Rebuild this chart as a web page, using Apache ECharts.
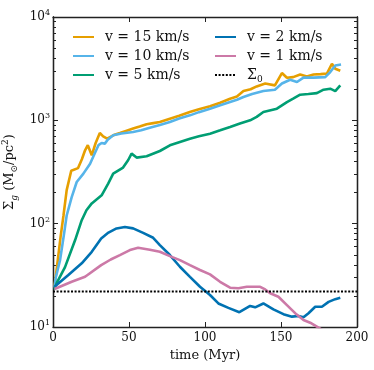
<!DOCTYPE html>
<html>
<head>
<meta charset="utf-8">
<script src="https://cdn.jsdelivr.net/npm/echarts@6/dist/echarts.min.js"></script>
<style>
  html, body { margin: 0; padding: 0; background: #fff; }
  #chart { width: 374px; height: 370px; }
</style>
</head>
<body>
<div id="chart"></div>
<script>
// time (Myr) and surface density for each run
var t15 = [1, 2.4, 5, 6.9, 9, 12, 16.5, 19, 21.1, 22.9, 25.5, 28, 30.8, 33, 35.6, 40, 44, 48, 52.7, 57, 61.6, 66, 70.3, 76.9, 83, 90, 96, 103.3, 110, 116.5, 121, 125.3, 130, 134, 139.6, 146, 150.6, 153.9, 158, 162.6, 167, 171.4, 176, 180.2, 183.5, 185.7, 189];
var v15 = [25, 36, 75, 120, 211, 325, 345, 420, 513, 575, 459, 600, 754, 700, 665, 720, 754, 790, 832, 870, 915, 940, 963, 1038, 1110, 1203, 1280, 1366, 1480, 1620, 1700, 1920, 2000, 2130, 2270, 2180, 2870, 2580, 2620, 2780, 2660, 2780, 2800, 2830, 3530, 3160, 3020];

var t10 = [1, 1.8, 4.6, 7, 9, 12.3, 15.6, 20, 24.4, 27.5, 29.9, 32, 34.1, 36, 39.6, 45, 52.7, 58, 63.7, 70.3, 76.9, 83, 90.1, 96, 103.3, 110, 116.5, 121, 125.3, 131, 138.4, 146, 150.6, 156, 160.5, 164.8, 171.4, 179.1, 182.4, 185.7, 189.5];
var v10 = [24, 30, 44, 75, 120, 181, 253, 305, 380, 480, 575, 603, 595, 650, 716, 745, 771, 800, 849, 900, 963, 1040, 1117, 1200, 1296, 1400, 1503, 1580, 1680, 1800, 1920, 1980, 2270, 2470, 2350, 2590, 2590, 2620, 2930, 3400, 3470];

var t5 = [1, 2.4, 7.9, 14.5, 18.9, 22, 25.5, 32, 36.3, 39.6, 46.1, 49.4, 51.7, 55, 61.6, 70.3, 76.9, 83, 90.1, 96, 103.3, 110, 116.5, 123, 129.7, 134, 138.4, 147.3, 153.9, 158, 162.6, 168, 173.6, 178, 182.4, 185.7, 189];
var v5 = [23, 26.6, 38, 69, 108, 135, 157, 188, 244, 305, 349, 411, 476, 436, 449, 505, 573, 615, 665, 700, 743, 800, 861, 930, 1000, 1080, 1203, 1296, 1503, 1620, 1770, 1800, 1835, 1980, 2025, 1920, 2180];

var t2 = [1, 2.2, 10.1, 18.9, 25.5, 31.7, 36.5, 41.8, 47.3, 52.7, 59.3, 65.9, 70.3, 76.9, 83.5, 90.1, 96.7, 103.3, 108.8, 115.4, 122.6, 129.7, 133, 138.4, 145, 151.6, 157.2, 161.5, 164.8, 168.1, 172.5, 176.9, 181.3, 185.7, 189];
var v2 = [24.5, 25.5, 31.8, 41.3, 53.4, 72, 82, 89.9, 93, 90, 81.5, 73, 62, 49.7, 38.3, 30.6, 24.5, 20.4, 16.9, 15.3, 13.9, 16.0, 15.5, 16.9, 14.8, 13.3, 12.6, 12.8, 12.4, 13.6, 15.7, 15.7, 17.5, 18.6, 19.2];

var t1 = [1, 2.2, 12.3, 21.1, 31.7, 38, 44, 50.6, 56, 63.7, 70.3, 76.9, 83.5, 90.1, 96.7, 103.3, 109.9, 116.5, 122, 127.5, 136.3, 139.6, 142.9, 148.3, 153.9, 159.3, 164.8, 169.2, 173.6, 177];
var v1 = [23.3, 23.6, 27.4, 30.6, 39.7, 45, 49.7, 55.5, 58.4, 56, 53.5, 48.5, 44.4, 39.7, 35.6, 32.3, 27.4, 24.0, 23.7, 24.5, 24.5, 23.1, 21.2, 19.6, 16.3, 13.6, 11.7, 11.0, 10.1, 9.4];

var sigma0 = 22;
var yMajor = [10, 100, 1000, 10000];
var yMinor = [20, 30, 40, 50, 60, 70, 80, 90, 200, 300, 400, 500, 600, 700, 800, 900, 2000, 3000, 4000, 5000, 6000, 7000, 8000, 9000];

var names = ['v = 15 km/s', 'v = 10 km/s', 'v = 5 km/s', 'v = 2 km/s', 'v = 1 km/s', 'Σ0'];
var colors = ['#E69F00', '#56B4E9', '#009E73', '#0072B2', '#CC79A7', '#000000'];

var FONT = '"DejaVu Serif", "Liberation Serif", serif';

function zip(ts, vs) {
  var out = [];
  for (var i = 0; i < ts.length; i++) out.push([ts[i], vs[i]]);
  return out;
}

function lineSeries(i, data) {
  return {
    name: names[i],
    type: 'line',
    data: data,
    showSymbol: false,
    symbol: 'none',
    clip: true,
    lineStyle: { color: colors[i], width: 2.6 },
    itemStyle: { color: colors[i] },
    z: 2 + i
  };
}

var chart = echarts.init(document.getElementById('chart'));

var axisLineStyle = { lineStyle: { color: '#222', width: 1.3 } };

function xAx(pos, withLabels) {
  return {
    type: 'value',
    position: pos,
    min: 0,
    max: 200,
    interval: 50,
    axisLine: axisLineStyle,
    axisTick: { inside: true, length: 5, lineStyle: { color: '#222' } },
    axisLabel: {
      show: withLabels,
      color: '#111',
      fontFamily: FONT,
      fontSize: 12,
      margin: 5
    },
    splitLine: { show: false },
    name: withLabels ? 'time (Myr)' : '',
    nameLocation: 'middle',
    nameGap: 21,
    nameTextStyle: { color: '#111', fontFamily: FONT, fontSize: 13 }
  };
}

function yAx(pos, major, withLabels) {
  return {
    type: 'log',
    logBase: 10,
    position: pos,
    min: 10,
    max: 10000,
    axisLine: axisLineStyle,
    axisTick: {
      inside: true,
      length: major ? 5 : 3,
      customValues: major ? yMajor : yMinor,
      lineStyle: { color: '#222' }
    },
    axisLabel: {
      show: withLabels,
      customValues: yMajor,
      margin: 3,
      formatter: function (v) {
        return '{b|10}{s|' + Math.round(Math.log10(v)) + '}';
      },
      rich: {
        b: { fontFamily: FONT, fontSize: 12, color: '#111', lineHeight: 16 },
        s: { fontFamily: FONT, fontSize: 8, color: '#111', verticalAlign: 'top', lineHeight: 16 }
      }
    },
    splitLine: { show: false },
    name: withLabels ? '{a|Σ}{g|g}{a| (M}{g|⊙}{a|/pc}{p|2}{a|)}' : '',
    nameLocation: 'middle',
    nameGap: 32,
    nameTextStyle: {
      rich: {
        a: { fontFamily: FONT, fontSize: 13, color: '#111', lineHeight: 18 },
        g: { fontFamily: FONT, fontSize: 9, color: '#111', fontStyle: 'italic', verticalAlign: 'bottom', lineHeight: 18 },
        p: { fontFamily: FONT, fontSize: 9, color: '#111', verticalAlign: 'top', lineHeight: 18 }
      }
    }
  };
}

var legendText = {
  fontFamily: FONT,
  fontSize: 14,
  color: '#111',
  padding: [0, 0, 0, 6],
  rich: {
    a: { fontFamily: FONT, fontSize: 14, color: '#111', lineHeight: 18 },
    s: { fontFamily: FONT, fontSize: 9, color: '#111', verticalAlign: 'bottom', lineHeight: 18 }
  }
};

function legendFmt(name) {
  return name === 'Σ0' ? '{a|Σ}{s|0}' : name;
}

function legendCol(data, left) {
  return {
    data: data,
    orient: 'vertical',
    left: left,
    top: 25,
    itemWidth: 21,
    itemHeight: 14,
    itemGap: 5,
    itemStyle: { opacity: 0 },
    formatter: legendFmt,
    textStyle: legendText
  };
}

var option = {
  animation: false,
  backgroundColor: '#fff',
  grid: { left: 53, right: 17, top: 17, bottom: 43, outerBoundsMode: 'none', containLabel: false },
  legend: [legendCol(names.slice(0, 3), 67), legendCol(names.slice(3), 209)],
  xAxis: [xAx('bottom', true), xAx('top', false)],
  yAxis: [
    yAx('left', true, true),
    yAx('left', false, false),
    yAx('right', true, false),
    yAx('right', false, false)
  ],
  series: [
    lineSeries(0, zip(t15, v15)),
    lineSeries(1, zip(t10, v10)),
    lineSeries(2, zip(t5, v5)),
    lineSeries(3, zip(t2, v2)),
    lineSeries(4, zip(t1, v1)),
    {
      name: names[5],
      type: 'line',
      data: [[0, sigma0], [200, sigma0]],
      showSymbol: false,
      symbol: 'none',
      lineStyle: { color: '#000', width: 2, type: [2, 1.6] },
      itemStyle: { color: '#000' },
      z: 10
    }
  ]
};

chart.setOption(option);
</script>
</body>
</html>
